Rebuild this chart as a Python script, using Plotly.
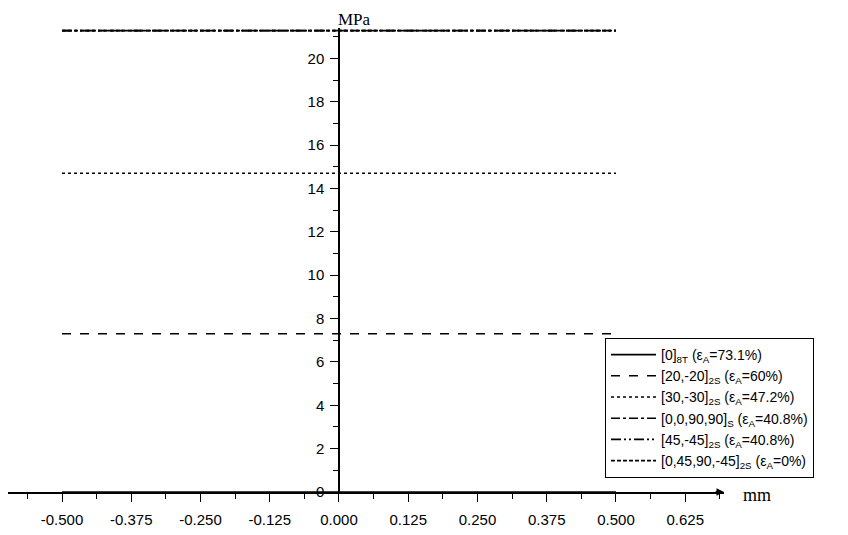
import plotly.graph_objects as go

# ---- data ----
x_span = [-0.5, 0.5]
series_names = [
    "[0]<sub>8T</sub> (ε<sub>A</sub>=73.1%)",
    "[20,-20]<sub>2S</sub> (ε<sub>A</sub>=60%)",
    "[30,-30]<sub>2S</sub> (ε<sub>A</sub>=47.2%)",
    "[0,0,90,90]<sub>S</sub> (ε<sub>A</sub>=40.8%)",
    "[45,-45]<sub>2S</sub> (ε<sub>A</sub>=40.8%)",
    "[0,45,90,-45]<sub>2S</sub> (ε<sub>A</sub>=0%)",
]
series_values = [0.0, 7.3, 14.7, 21.28, 21.28, 21.28]
series_dash = ["solid", "dash", "dot", "dashdot", "10px,3px,2px,3px,2px,3px", "4px,2px"]

x_tickvals = [-0.5, -0.375, -0.25, -0.125, 0.0, 0.125, 0.25, 0.375, 0.5, 0.625]
x_ticktext = ["-0.500", "-0.375", "-0.250", "-0.125", "0.000", "0.125", "0.250", "0.375", "0.500", "0.625"]
y_tickvals = [0, 2, 4, 6, 8, 10, 12, 14, 16, 18, 20]
y_ticktext = ["0", "2", "4", "6", "8", "10", "12", "14", "16", "18", "20"]

x_range = [-0.5975, 0.695]
y_range = [0, 21.4]

fig = go.Figure()
for name, val, dash in zip(series_names, series_values, series_dash):
    fig.add_trace(go.Scatter(
        x=x_span, y=[val, val], mode="lines", name=name,
        line=dict(color="black", width=1.6, dash=dash),
        showlegend=True,
    ))

y_axis_pos = (0 - x_range[0]) / (x_range[1] - x_range[0])

font_sans = "Liberation Sans, Arial, sans-serif"
font_serif = "Liberation Serif, Times New Roman, serif"

W, H = 840, 527
L, R, T, B = 0, 124, 20, 43
PW, PH = W - L - R, H - T - B

fig.update_layout(
    width=W, height=H,
    margin=dict(l=L, r=R, t=T, b=B),
    paper_bgcolor="white", plot_bgcolor="white",
    showlegend=True,
    legend=dict(
        x=(597 - L) / PW, y=(PH + T - 330) / PH, xanchor="left", yanchor="top",
        bordercolor="black", borderwidth=1, bgcolor="white",
        font=dict(family=font_sans, size=14, color="black"),
        itemwidth=45, tracegroupgap=0,
    ),
    xaxis=dict(
        range=x_range, showgrid=False, zeroline=False,
        showline=True, linecolor="black", linewidth=1.5,
        tickvals=x_tickvals, ticktext=x_ticktext,
        ticks="outside", ticklen=8, tickwidth=1.3, tickcolor="black",
        ticklabelstandoff=5,
        minor=dict(dtick=0.0625, tick0=0, ticks="outside", ticklen=5, tickwidth=1.2, tickcolor="black", showgrid=False),
        tickfont=dict(family=font_sans, size=15, color="black"),
        anchor="y", fixedrange=True,
    ),
    yaxis=dict(
        range=y_range, showgrid=False, zeroline=False,
        showline=True, linecolor="black", linewidth=1.5,
        tickvals=y_tickvals, ticktext=y_ticktext,
        ticks="outside", ticklen=8, tickwidth=1.3, tickcolor="black",
        ticklabelstandoff=3,
        minor=dict(dtick=1, tick0=0, ticks="outside", ticklen=5, tickwidth=1.2, tickcolor="black", showgrid=False),
        tickfont=dict(family=font_sans, size=15, color="black"),
        anchor="free", position=y_axis_pos, side="left", fixedrange=True,
    ),
    annotations=[
        dict(text="MPa", x=0, y=1, xref="x", yref="paper", xanchor="center", yanchor="bottom",
             xshift=16, yshift=-3, showarrow=False,
             font=dict(family=font_serif, size=17, color="black")),
        dict(text="mm", x=1, y=0, xref="paper", yref="y", xanchor="left", yanchor="middle",
             xshift=17, yshift=-3, showarrow=False,
             font=dict(family=font_serif, size=18, color="black")),
        dict(text="", x=x_range[1], y=0, xref="x", yref="y", showarrow=True,
             ax=-10, ay=0, axref="pixel", ayref="pixel",
             arrowhead=2, arrowsize=1, arrowwidth=1.5, arrowcolor="black"),
    ],
)

fig.write_html("out.html")
